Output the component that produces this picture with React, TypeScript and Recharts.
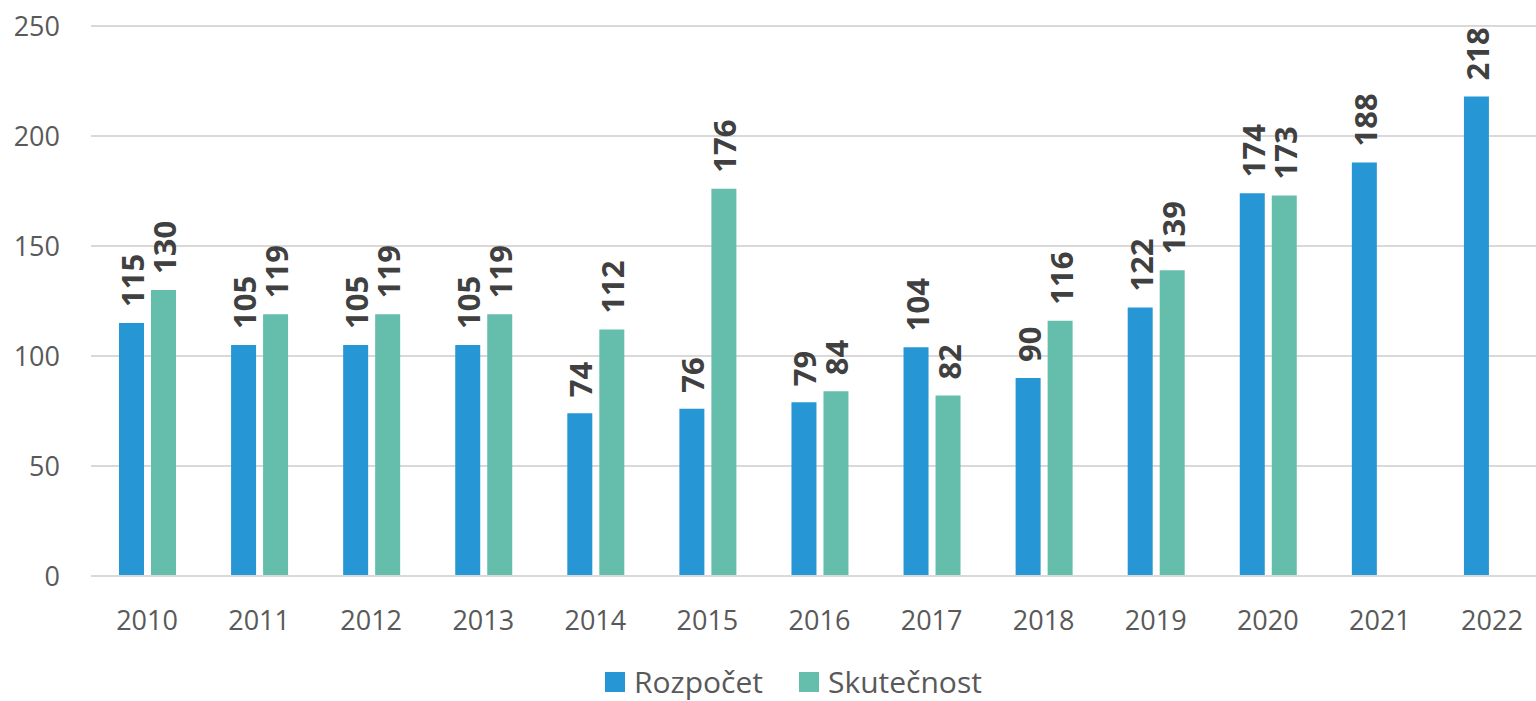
import {
  BarChart,
  Bar,
  XAxis,
  YAxis,
  CartesianGrid,
  Legend,
  LabelList,
} from "recharts";

const years = ["2010", "2011", "2012", "2013", "2014", "2015", "2016", "2017", "2018", "2019", "2020", "2021", "2022"];
const rozpocet = [115, 105, 105, 105, 74, 76, 79, 104, 90, 122, 174, 188, 218];
const skutecnost: (number | null)[] = [130, 119, 119, 119, 112, 176, 84, 82, 116, 139, 173, null, null];
const yTicks = [0, 50, 100, 150, 200, 250];

const BLUE = "#2796D5";
const GREEN = "#65BEAC";
const FONT = "'Open Sans', 'Noto Sans', sans-serif";

const data = years.map((year, i) => ({
  year,
  rozpocet: rozpocet[i],
  skutecnost: skutecnost[i],
}));

const renderValue = (props: any) => {
  const { x, y, width, value } = props;
  if (value === null || value === undefined) return null;
  const bx = Number(x) + Number(width) / 2 + 12.5;
  const by = Number(y) - 16;
  return (
    <text
      x={bx}
      y={by}
      transform={`rotate(-90, ${bx}, ${by})`}
      textAnchor="start"
      fill="#404040"
      fontSize={31}
      fontWeight={700}
      fontFamily={FONT}
    >
      {value}
    </text>
  );
};

const legendItems = [
  { label: "Rozpočet", color: BLUE },
  { label: "Skutečnost", color: GREEN },
];

const renderLegend = () => (
  <div style={{ display: "flex", alignItems: "center", paddingLeft: 605, height: 32 }}>
    {legendItems.map((item, i) => (
      <div key={item.label} style={{ display: "flex", alignItems: "center", marginRight: i === 0 ? 36 : 0 }}>
        <span style={{ width: 20, height: 20, background: item.color, marginRight: 9, display: "inline-block" }} />
        <span style={{ fontSize: 30, lineHeight: "32px", color: "#595959", fontFamily: FONT }}>{item.label}</span>
      </div>
    ))}
  </div>
);

export default function App() {
  return (
    <div style={{ position: "fixed", left: 0, top: 0, width: 1536, height: 701, overflow: "hidden", background: "#fff" }}>
      <BarChart
        width={1548}
        height={701}
        data={data}
        margin={{ top: 26, right: 0, bottom: 33, left: 0 }}
        barSize={25}
        barGap={7}
      >
        <CartesianGrid vertical={false} stroke="#d9d9d9" strokeWidth={2} />
        <XAxis
          dataKey="year"
          axisLine={{ stroke: "#d9d9d9", strokeWidth: 2 }}
          tickLine={false}
          tickMargin={29}
          height={60}
          tick={{ fill: "#595959", fontSize: 27, fontFamily: FONT }}
        />
        <YAxis
          domain={[0, 250]}
          ticks={yTicks}
          width={91}
          axisLine={false}
          tickLine={false}
          tickMargin={25}
          tick={{ fill: "#595959", fontSize: 27, fontFamily: FONT }}
        />
        <Legend
          content={renderLegend}
          wrapperStyle={{ position: "absolute", top: 666, left: 0, width: 1536, height: 32 }}
        />
        <Bar dataKey="rozpocet" name="Rozpočet" fill={BLUE} isAnimationActive={false}>
          <LabelList dataKey="rozpocet" content={renderValue} />
        </Bar>
        <Bar dataKey="skutecnost" name="Skutečnost" fill={GREEN} isAnimationActive={false}>
          <LabelList dataKey="skutecnost" content={renderValue} />
        </Bar>
      </BarChart>
    </div>
  );
}
